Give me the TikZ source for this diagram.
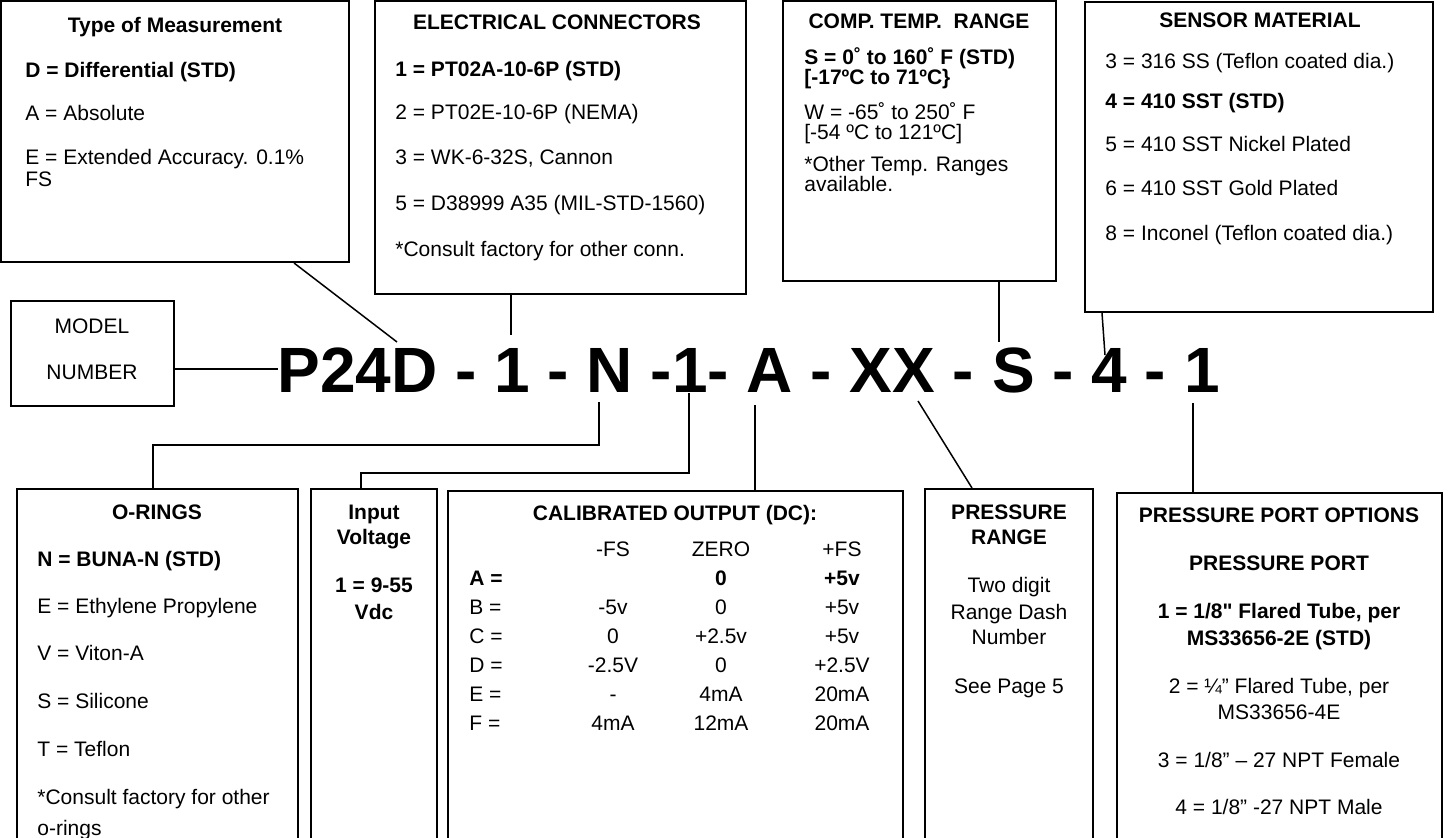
\documentclass[tikz,border=0pt]{standalone}
\usepackage{fontspec}
\setmainfont{Liberation Sans}[Ligatures=TeXOff]
\usetikzlibrary{fit,calc}

\tikzset{
  box/.style={draw, line width=1pt, inner sep=0pt},
  lead/.style={line width=0.75pt},
  txt/.style={inner sep=0pt, anchor=base west, font=\fontsize{10.5}{12}\selectfont},
  ctxt/.style={txt, anchor=base},
  bold/.style={txt, font=\fontsize{10.5}{12}\selectfont\bfseries},
  head/.style={ctxt, font=\fontsize{10.5}{12}\selectfont\bfseries},
  code/.style={inner sep=0pt, anchor=base west, font=\fontsize{32}{36}\selectfont\bfseries}
}

\begin{document}
\begin{tikzpicture}[x=0.5pt, y=-0.5pt]
\useasboundingbox (0,0) rectangle (1452,838);
\clip (0,0) rectangle (1452,838);

% option boxes
\node[box, fit={(1,1) (349,262)}] (meas) {};
\node[box, fit={(375,1) (746,294)}] (conn) {};
\node[box, fit={(783,1) (1056,281)}] (temp) {};
\node[box, fit={(1085,2) (1433,312)}] (sens) {};
\node[box, fit={(11,301) (174,406)}] (model) {};
\node[box, fit={(17,489) (298,850)}] (ring) {};
\node[box, fit={(311,489) (437,850)}] (volt) {};
\node[box, fit={(448,491) (903,850)}] (outp) {};
\node[box, fit={(925,489) (1093,850)}] (range) {};
\node[box, fit={(1117,493) (1442,850)}] (port) {};

% type of measurement
\node[head] (meas-t) at (175,33) {Type of Measurement};
\node[bold] (meas-d) at (25,78) {D = Differential (STD)};
\node[txt] (meas-a) at (25,121) {A = Absolute};
\node[txt] (meas-e) at (25,165) {E = Extended Accuracy. 0.1\%};
\node[txt] (meas-fs) at (25,187) {FS};

% electrical connectors
\node[head] (conn-t) at (557,30) {ELECTRICAL CONNECTORS};
\node[bold] (conn-1) at (395,77) {1 = PT02A-10-6P (STD)};
\node[txt] (conn-2) at (395,120) {2 = PT02E-10-6P (NEMA)};
\node[txt] (conn-3) at (395,165) {3 = WK-6-32S, Cannon};
\node[txt] (conn-5) at (395,211) {5 = D38999 A35 (MIL-STD-1560)};
\node[txt] (conn-x) at (395,257) {*Consult factory for other conn.};

% comp. temp. range
\node[head] (temp-t) at (919,29) {COMP. TEMP.~ RANGE};
\node[bold] (temp-s) at (804,65) {S = 0˚ to 160˚ F (STD)};
\node[bold] (temp-s2) at (804,85) {[-17ºC to 71ºC\}};
\node[txt] (temp-w) at (804,120) {W = -65˚ to 250˚ F};
\node[txt] (temp-w2) at (804,140) {[-54 ºC to 121ºC]};
\node[txt] (temp-x) at (804,172) {*Other Temp. Ranges};
\node[txt] (temp-x2) at (804,192) {available.};

% sensor material
\node[head] (sens-t) at (1260,28) {SENSOR MATERIAL};
\node[txt] (sens-3) at (1105,69) {3 = 316 SS (Teflon coated dia.)};
\node[bold] (sens-4) at (1105,109) {4 = 410 SST (STD)};
\node[txt] (sens-5) at (1105,152) {5 = 410 SST Nickel Plated};
\node[txt] (sens-6) at (1105,196) {6 = 410 SST Gold Plated};
\node[txt] (sens-8) at (1105,241) {8 = Inconel (Teflon coated dia.)};

% model number
\node[ctxt] (model-1) at (92,334) {MODEL};
\node[ctxt] (model-2) at (92,380) {NUMBER};
\node[code] (code) at (277,393) {P24D - 1 - N -1- A - XX - S - 4 - 1};

% o-rings
\node[head] (ring-t) at (157,520) {O-RINGS};
\node[bold] (ring-n) at (37,567) {N = BUNA-N (STD)};
\node[txt] (ring-e) at (37,614) {E = Ethylene Propylene};
\node[txt] (ring-v) at (37,661) {V = Viton-A};
\node[txt] (ring-s) at (37,709) {S = Silicone};
\node[txt] (ring-te) at (37,757) {T = Teflon};
\node[txt] (ring-x) at (37,805) {*Consult factory for other};
\node[txt] (ring-x2) at (37,836) {o-rings};

% input voltage
\node[head] (volt-t) at (374,520) {Input};
\node[head] (volt-t2) at (374,545) {Voltage};
\node[head] (volt-1) at (374,593) {1 = 9-55};
\node[head] (volt-1b) at (374,620) {Vdc};

% calibrated output
\node[head] (outp-t) at (675,521) {CALIBRATED OUTPUT (DC):};
\node[ctxt] (outp-h1) at (613,557) {-FS};
\node[ctxt] (outp-h2) at (721,557) {ZERO};
\node[ctxt] (outp-h3) at (842,557) {+FS};
\node[bold] (outp-a) at (469,586) {A =};
\node[head] (outp-a2) at (721,586) {0};
\node[head] (outp-a3) at (842,586) {+5v};
\node[txt] (outp-b) at (469,615) {B =};
\node[ctxt] (outp-b1) at (613,615) {-5v};
\node[ctxt] (outp-b2) at (721,615) {0};
\node[ctxt] (outp-b3) at (842,615) {+5v};
\node[txt] (outp-c) at (469,644) {C =};
\node[ctxt] (outp-c1) at (613,644) {0};
\node[ctxt] (outp-c2) at (721,644) {+2.5v};
\node[ctxt] (outp-c3) at (842,644) {+5v};
\node[txt] (outp-d) at (469,673) {D =};
\node[ctxt] (outp-d1) at (613,673) {-2.5V};
\node[ctxt] (outp-d2) at (721,673) {0};
\node[ctxt] (outp-d3) at (842,673) {+2.5V};
\node[txt] (outp-e) at (469,702) {E =};
\node[ctxt] (outp-e1) at (613,702) {-};
\node[ctxt] (outp-e2) at (721,702) {4mA};
\node[ctxt] (outp-e3) at (842,702) {20mA};
\node[txt] (outp-f) at (469,731) {F =};
\node[ctxt] (outp-f1) at (613,731) {4mA};
\node[ctxt] (outp-f2) at (721,731) {12mA};
\node[ctxt] (outp-f3) at (842,731) {20mA};

% pressure range
\node[head] (range-t) at (1009,520) {PRESSURE};
\node[head] (range-t2) at (1009,545) {RANGE};
\node[ctxt] (range-1) at (1009,593) {Two digit};
\node[ctxt] (range-2) at (1009,620) {Range Dash};
\node[ctxt] (range-3) at (1009,645) {Number};
\node[ctxt] (range-4) at (1009,694) {See Page 5};

% pressure port options
\node[head] (port-t) at (1279,523) {PRESSURE PORT OPTIONS};
\node[head] (port-t2) at (1279,571) {PRESSURE PORT};
\node[head] (port-1) at (1279,619) {1 = 1/8" Flared Tube, per};
\node[head] (port-1b) at (1279,646) {MS33656-2E (STD)};
\node[ctxt] (port-2) at (1279,694) {2 = ¼” Flared Tube, per};
\node[ctxt] (port-2b) at (1279,720) {MS33656-4E};
\node[ctxt] (port-3) at (1279,768) {3 = 1/8” – 27 NPT Female};
\node[ctxt] (port-4) at (1279,815) {4 = 1/8” -27 NPT Male};

% tap points on the model number
\coordinate (tapP) at (278,369);
\coordinate (tapD) at (397,342);
\coordinate (tap1) at (511,335);
\coordinate (tapN) at (599,402);
\coordinate (ringTap) at (153,445);
\coordinate (tap1b) at (689,393);
\coordinate (voltTap) at (361,473);
\coordinate (tapA) at (755,405);
\coordinate (tapX) at (918,401);
\coordinate (tapS) at (999,342);
\coordinate (tap4) at (1105,355);
\coordinate (tap1c) at (1193,403);

% leads
\draw[lead] (model.east |- tapP) -- (tapP);
\draw[lead] ($(meas.south west)+(294,0)$) -- (tapD);
\draw[lead] (conn.south -| tap1) -- (tap1);
\draw[lead] (temp.south -| tapS) -- (tapS);
\draw[lead] ($(sens.south west)+(18,0)$) -- (tap4);
\draw[lead] (tapN) |- (ringTap) -- (ringTap |- ring.north);
\draw[lead] (tap1b) |- (voltTap) -- (voltTap |- volt.north);
\draw[lead] (tapA) -- (tapA |- outp.north);
\draw[lead] (tapX) -- ($(range.north west)+(48,0)$);
\draw[lead] (tap1c) -- (tap1c |- port.north);
\end{tikzpicture}
\end{document}
